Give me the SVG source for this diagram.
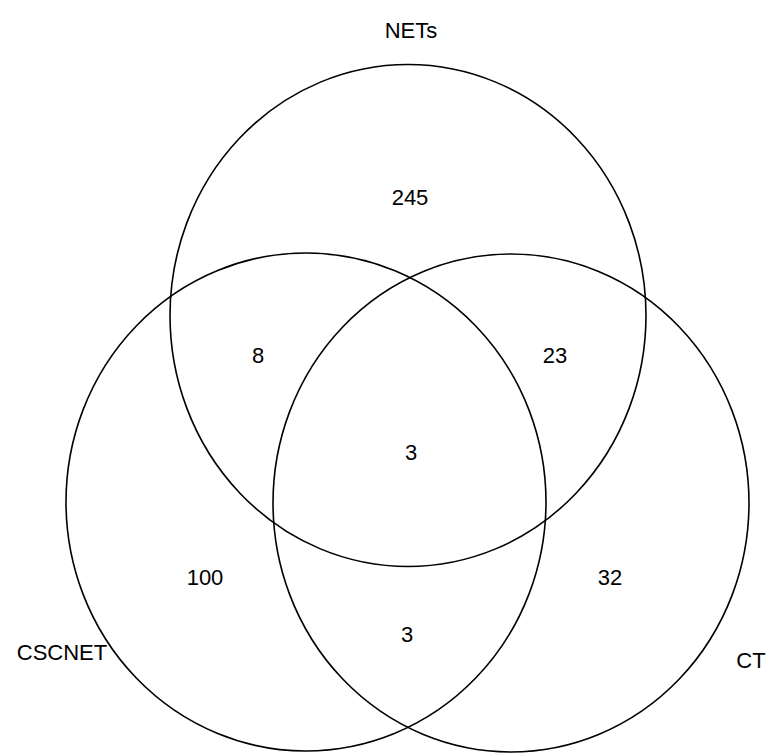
<svg xmlns="http://www.w3.org/2000/svg" width="767" height="754" viewBox="0 0 767 754">
<style>
.c{fill:none;stroke:#000;stroke-width:1.6}
text{font-family:"Liberation Sans",Arial,sans-serif;font-size:22px;fill:#000;text-anchor:middle;dominant-baseline:central}
</style>
<rect width="767" height="754" fill="#fff"/>
<g id="nets"><ellipse class="c" cx="408" cy="315.5" rx="238" ry="251"/><text x="411" y="30">NETs</text></g>
<g id="cscnet"><ellipse class="c" cx="306" cy="502" rx="240" ry="249"/><text x="62" y="652">CSCNET</text></g>
<g id="ct"><ellipse class="c" cx="511" cy="503" rx="238" ry="249"/><text x="751" y="660">CT</text></g>
<g id="counts">
<text x="410" y="197">245</text>
<text x="258" y="355">8</text>
<text x="555" y="355">23</text>
<text x="411" y="452">3</text>
<text x="205" y="577">100</text>
<text x="610" y="577">32</text>
<text x="407" y="634">3</text>
</g>
</svg>
